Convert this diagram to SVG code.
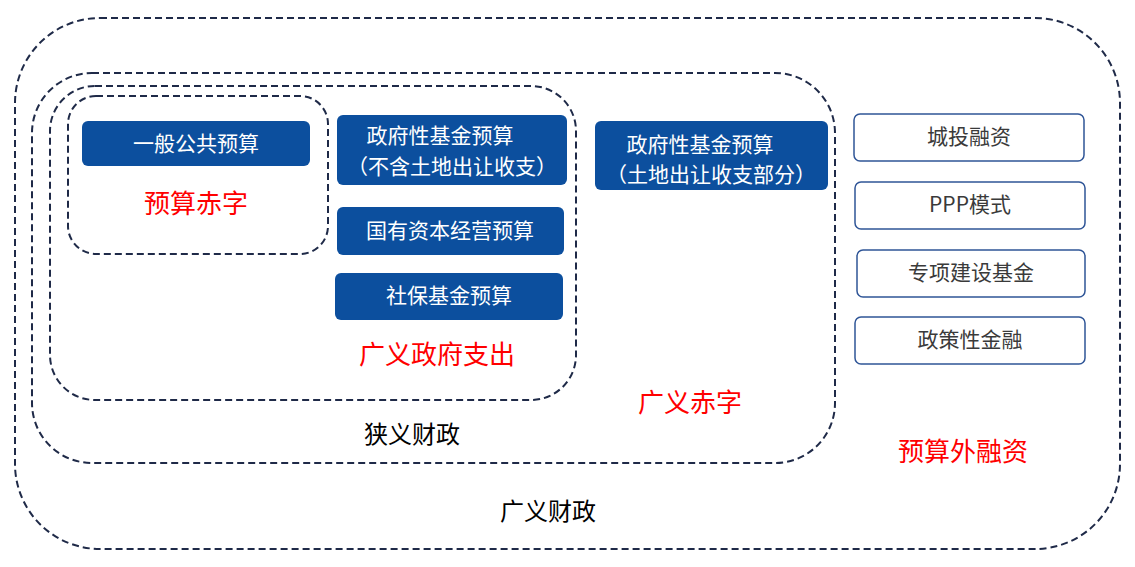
<svg xmlns="http://www.w3.org/2000/svg" width="1135" height="567" viewBox="0 0 1135 567">
<style>
.d{fill:none;stroke:#1f2a48;stroke-width:2;stroke-dasharray:7 4}
.b{fill:#0c4f9e;rx:6}
.w{fill:#fff;stroke:#2f5597;stroke-width:1.5}
text{font-family:"Noto Sans CJK SC","Liberation Serif",sans-serif;text-anchor:middle}
.t{fill:#fff;font-size:21px}
.k{fill:#3a3a3a;font-size:21px}
.r{fill:#ff0000;font-size:26px}
.n{fill:#000;font-size:24px}
</style>
<rect width="1135" height="567" fill="#fff"/>
<g id="outer"><rect class="d" x="15" y="18" width="1105" height="531" rx="85"/><text class="n" x="548" y="520">广义财政</text></g>
<g id="narrow"><rect class="d" x="32" y="73" width="803" height="390" rx="60"/><text class="n" x="412" y="443">狭义财政</text></g>
<g id="govspend"><rect class="d" x="50" y="86" width="526" height="314" rx="45"/><text class="r" x="437" y="364">广义政府支出</text></g>
<g id="deficit"><rect class="d" x="68" y="96" width="260" height="158" rx="28"/><text class="r" x="196" y="213">预算赤字</text></g>
<g id="n1"><rect class="b" x="82" y="121" width="228" height="45"/><text class="t" x="196" y="151">一般公共预算</text></g>
<g id="n2"><rect class="b" x="337" y="115" width="230" height="70"/><text class="t" x="440" y="143">政府性基金预算</text><text class="t" x="452" y="174">（不含土地出让收支）</text></g>
<g id="n3"><rect class="b" x="337" y="207" width="227" height="48"/><text class="t" x="450" y="238">国有资本经营预算</text></g>
<g id="n4"><rect class="b" x="335" y="273" width="228" height="47"/><text class="t" x="449" y="303">社保基金预算</text></g>
<g id="n5"><rect class="b" x="595" y="121" width="233" height="69"/><text class="t" x="700" y="152">政府性基金预算</text><text class="t" x="711" y="182">（土地出让收支部分）</text></g>
<g id="widedef"><text class="r" x="690" y="412">广义赤字</text></g>
<g id="r1"><rect class="w" x="854" y="114" width="230" height="47" rx="6"/><text class="k" x="969" y="144">城投融资</text></g>
<g id="r2"><rect class="w" x="855" y="182" width="230" height="47" rx="6"/><text class="k" x="970" y="212">PPP模式</text></g>
<g id="r3"><rect class="w" x="857" y="250" width="228" height="47" rx="6"/><text class="k" x="971" y="280">专项建设基金</text></g>
<g id="r4"><rect class="w" x="855" y="317" width="230" height="47" rx="6"/><text class="k" x="970" y="347">政策性金融</text></g>
<g id="offbudget"><text class="r" x="963" y="461">预算外融资</text></g>
<g id="connectors"/>
</svg>
